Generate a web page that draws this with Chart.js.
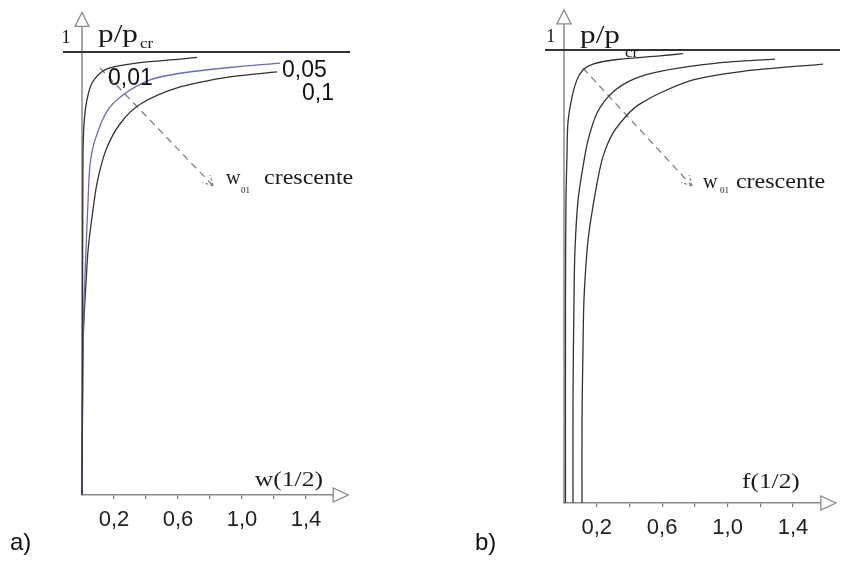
<!DOCTYPE html>
<html>
<head>
<meta charset="utf-8">
<script src="https://cdn.jsdelivr.net/npm/chart.js@4.4.1/dist/chart.umd.min.js"></script>
<style>
  html, body { margin: 0; padding: 0; background: #fff; }
  #wrap { position: relative; width: 847px; height: 563px; }
  canvas { position: absolute; top: 0; }
  #chartA { left: 0; }
  #chartB { left: 420px; }
</style>
</head>
<body>
<div id="wrap">
  <canvas id="chartA" width="420" height="563"></canvas>
  <canvas id="chartB" width="427" height="563"></canvas>
</div>
<script>
// tick marks every 0,2 but only some get a label
const xTickMarks = [0.2, 0.4, 0.6, 0.8, 1.0, 1.2, 1.4];
const xTickLabels = [0.2, 0.6, 1.0, 1.4];

// a) w(1/2) vs p/pcr, for w01 = 0,01 / 0,05 / 0,1
const aX1 = [0, 0.003, 0.006, 0.013, 0.031, 0.063, 0.131, 0.206, 0.363, 0.613, 0.719];
const aY1 = [0, 0.327, 0.763, 0.840, 0.892, 0.930, 0.957, 0.967, 0.976, 0.984, 0.988];
const aX2 = [0, 0.006, 0.013, 0.025, 0.038, 0.05, 0.081, 0.156, 0.256, 0.425, 0.613, 0.925, 1.238];
const aY2 = [0, 0.327, 0.440, 0.553, 0.666, 0.745, 0.801, 0.866, 0.903, 0.937, 0.952, 0.965, 0.975];
const aX3 = [0, 0.006, 0.013, 0.025, 0.038, 0.063, 0.094, 0.15, 0.238, 0.363, 0.613, 0.925, 1.219];
const aY3 = [0, 0.327, 0.402, 0.479, 0.553, 0.628, 0.704, 0.779, 0.838, 0.882, 0.921, 0.944, 0.955];

// b) f(1/2) vs p/pcr
const bX1 = [0.009, 0.009, 0.012, 0.018, 0.024, 0.049, 0.079, 0.116, 0.177, 0.324, 0.587, 0.727];
const bY1 = [0, 0.448, 0.669, 0.764, 0.839, 0.896, 0.934, 0.956, 0.969, 0.979, 0.987, 0.992];
const bX2 = [0.055, 0.055, 0.061, 0.067, 0.086, 0.116, 0.147, 0.202, 0.293, 0.422, 0.587, 0.935, 1.29];
const bY2 = [0, 0.227, 0.448, 0.558, 0.669, 0.742, 0.801, 0.861, 0.905, 0.935, 0.953, 0.971, 0.980];
const bX3 = [0.110, 0.110, 0.116, 0.122, 0.141, 0.159, 0.202, 0.238, 0.300, 0.403, 0.465, 0.587, 0.789, 1.094, 1.583];
const bY3 = [0, 0.183, 0.338, 0.448, 0.558, 0.614, 0.706, 0.764, 0.817, 0.863, 0.881, 0.905, 0.934, 0.953, 0.969];

// p/pcr = 1 line and the dashed "w01 crescente" arrows
const aLimitX = [-0.119, 1.675];
const bLimitX = [-0.116, 1.687];
const limitY = [1, 1];
const aArrowX = [0.1125, 0.819];
const aArrowY = [0.964, 0.698];
const bArrowX = [0.116, 0.782];
const bArrowY = [0.960, 0.700];

const pts = (xs, ys) => xs.map((v, i) => ({ x: v, y: ys[i] }));
const SERIF = 'Liberation Serif, Times New Roman, serif';
const SANS = 'Liberation Sans, Arial, sans-serif';

const deco = {
    id: 'deco',
    beforeDatasetsDraw(chart) {
        const { ctx, chartArea: ca } = chart;
        ctx.save();
        ctx.strokeStyle = '#8a8a8a';
        ctx.lineWidth = 1.5;
        ctx.beginPath();
        ctx.moveTo(ca.left, ca.bottom);
        ctx.lineTo(ca.left, ca.top);
        ctx.stroke();
        ctx.restore();
    },
    afterDatasetsDraw(chart, args, o) {
        const { ctx, chartArea: ca, scales: { x, y } } = chart;
        ctx.save();
        // open arrow heads of the axes
        ctx.fillStyle = '#fff';
        ctx.strokeStyle = '#8a8a8a';
        ctx.lineWidth = 1.3;
        ctx.beginPath();
        ctx.moveTo(ca.left - 7, ca.top + 1);
        ctx.lineTo(ca.left + 7, ca.top + 1);
        ctx.lineTo(ca.left, ca.top - 13);
        ctx.closePath();
        ctx.fill(); ctx.stroke();
        ctx.beginPath();
        ctx.moveTo(ca.right, ca.bottom - 7);
        ctx.lineTo(ca.right, ca.bottom + 7);
        ctx.lineTo(ca.right + 15, ca.bottom);
        ctx.closePath();
        ctx.fill(); ctx.stroke();

        // head of the dashed arrow
        chart.data.datasets.forEach((ds, i) => {
            if (!ds.arrow) return;
            const p = chart.getDatasetMeta(i).data;
            const a = p[p.length - 2], b = p[p.length - 1];
            const ang = Math.atan2(b.y - a.y, b.x - a.x);
            ctx.strokeStyle = ds.borderColor;
            ctx.lineWidth = 1.2;
            ctx.setLineDash([3, 2]);
            ctx.beginPath();
            [-1, 1].forEach(s => {
                ctx.moveTo(b.x, b.y);
                ctx.lineTo(b.x - 11 * Math.cos(ang + s * 0.5), b.y - 11 * Math.sin(ang + s * 0.5));
            });
            ctx.stroke();
            ctx.setLineDash([]);
        });

        // texts
        (o.texts || []).forEach(t => {
            ctx.save();
            ctx.translate(x.getPixelForValue(t.x), y.getPixelForValue(t.y));
            ctx.scale(t.sx || 1, 1);
            ctx.font = t.font;
            ctx.fillStyle = t.color || '#1a1a1a';
            ctx.textBaseline = 'alphabetic';
            ctx.fillText(t.text, 0, 0);
            ctx.restore();
        });
        ctx.restore();
    }
};

function curve(data, color) {
    return { data: data, borderColor: color, borderWidth: 1.3, tension: 0.3, clip: false };
}

function panel(id, datasets, pad, texts) {
    return new Chart(document.getElementById(id), {
        type: 'line',
        data: { datasets: datasets },
        options: {
            responsive: false,
            animation: false,
            layout: { padding: pad },
            elements: { point: { radius: 0 } },
            plugins: {
                legend: { display: false },
                tooltip: { enabled: false },
                deco: { texts: texts }
            },
            scales: {
                x: {
                    type: 'linear',
                    min: 0,
                    max: 1.57,
                    afterBuildTicks: s => { s.ticks = xTickMarks.map(v => ({ value: v })); },
                    afterFit: s => { s.height = 38; },
                    grid: { drawOnChartArea: false, tickLength: 4, color: '#777', lineWidth: 1.2 },
                    border: { color: '#8a8a8a', width: 1.5 },
                    ticks: {
                        padding: 8,
                        color: '#222',
                        maxRotation: 0,
                        autoSkip: false,
                        font: { family: SANS, size: 22, lineHeight: 1.2 },
                        callback: v => xTickLabels.some(t => Math.abs(t - v) < 1e-6) ? v.toFixed(1).replace('.', ',') : ''
                    }
                },
                y: { type: 'linear', display: false, min: 0, max: 1.06 }
            }
        },
        plugins: [deco]
    });
}

// a)
panel('chartA', [
    { data: pts(aLimitX, limitY), borderColor: '#333', borderWidth: 2, tension: 0, clip: false },
    curve(pts(aX1, aY1), '#333'),
    curve(pts(aX2, aY2), '#6a6ac4'),
    curve(pts(aX3, aY3), '#333'),
    { data: pts(aArrowX, aArrowY), borderColor: '#808080', borderWidth: 1.3, borderDash: [7, 5], tension: 0, arrow: true }
], { left: 82, right: 86.8, top: 25.4, bottom: 30 }, [
    { text: '1', x: -0.13, y: 1.020, font: '19px ' + SERIF },
    { text: 'p/p', x: 0.1, y: 1.023, font: '25px ' + SERIF, sx: 1.25 },
    { text: 'cr', x: 0.3625, y: 1.009, font: '14px ' + SERIF, sx: 1.2 },
    { text: '0,01', x: 0.1625, y: 0.926, font: '23px ' + SANS, color: '#111' },
    { text: '0,05', x: 1.25, y: 0.944, font: '23px ' + SANS, color: '#111' },
    { text: '0,1', x: 1.375, y: 0.892, font: '23px ' + SANS, color: '#111' },
    { text: 'w', x: 0.9, y: 0.702, font: '20px ' + SERIF },
    { text: '01', x: 0.994, y: 0.682, font: '9px ' + SERIF },
    { text: 'crescente', x: 1.1375, y: 0.702, font: '20px ' + SERIF, sx: 1.2 },
    { text: 'w(1/2)', x: 1.08, y: 0.0203, font: '20px ' + SERIF, sx: 1.28 },
    { text: 'a)', x: -0.45, y: -0.124, font: '24px ' + SANS, color: '#111' }
]);

// b)
panel('chartB', [
    { data: pts(bLimitX, limitY), borderColor: '#333', borderWidth: 2, tension: 0, clip: false },
    curve(pts(bX1, bY1), '#333'),
    curve(pts(bX2, bY2), '#333'),
    curve(pts(bX3, bY3), '#333'),
    { data: pts(bArrowX, bArrowY), borderColor: '#808080', borderWidth: 1.3, borderDash: [7, 5], tension: 0, arrow: true }
], { left: 144, right: 26.15, top: 22.8, bottom: 22 }, [
    { text: '1', x: -0.11, y: 1.018, font: '19px ' + SERIF },
    { text: 'p/p', x: 0.098, y: 1.015, font: '25px ' + SERIF, sx: 1.25 },
    { text: 'cr', x: 0.373, y: 0.985, font: '14px ' + SERIF, sx: 1.2 },
    { text: 'w', x: 0.85, y: 0.695, font: '20px ' + SERIF },
    { text: '01', x: 0.954, y: 0.684, font: '9px ' + SERIF },
    { text: 'crescente', x: 1.051, y: 0.695, font: '20px ' + SERIF, sx: 1.2 },
    { text: 'f(1/2)', x: 1.088, y: 0.033, font: '20px ' + SERIF, sx: 1.27 },
    { text: 'b)', x: -0.544, y: -0.104, font: '24px ' + SANS, color: '#111' }
]);
</script>
</body>
</html>
